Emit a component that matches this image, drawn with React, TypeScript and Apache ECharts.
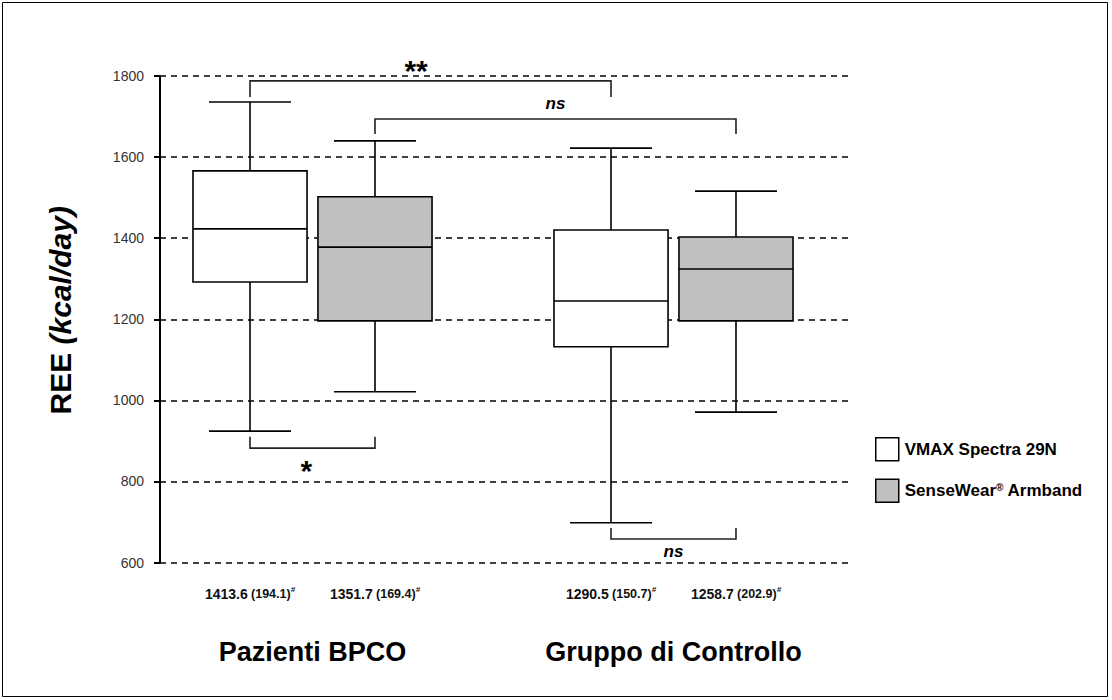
import React, { useEffect, useRef } from "react";
import * as echarts from "echarts";

const FONT = "'Liberation Sans', Arial, sans-serif";

const groups = ["Pazienti BPCO", "Gruppo di Controllo"];
const seriesNames = ["VMAX Spectra 29N", "SenseWear® Armband"];
// [min, Q1, median, Q3, max] for each group
const vmaxStats = [
  [924, 1292, 1423, 1566, 1736],
  [698, 1132, 1245, 1420, 1622],
];
const senseStats = [
  [1021, 1196, 1378, 1502, 1640],
  [971, 1196, 1324, 1403, 1516],
];
const vmaxMean = ["1413.6", "1290.5"];
const vmaxSd = ["194.1", "150.7"];
const senseMean = ["1351.7", "1258.7"];
const senseSd = ["169.4", "202.9"];

const yMin = 600;
const yMax = 1800;
const yStep = 200;

// [fromGroup, fromSeries, toGroup, toSeries, barValue, legEndValue]
const brackets = [
  [0, 0, 1, 0, 1788, 1748],
  [0, 1, 1, 1, 1694, 1657],
  [0, 0, 0, 1, 882, 910],
  [1, 0, 1, 1, 658, 685],
];
const bracketLabels = ["**", "ns", "*", "ns"];

// layout fractions of the category band width
const SIDE = 0.1731;
const BOX_HALF = 0.158;
const CAP_HALF = 0.1136;
// label position along each bracket (style)
const LABEL_FRAC = [0.46, 0.5, 0.45, 0.5];

const fills = ["#ffffff", "#c0c0c0"];

function makeBoxRender(sIdx: number, means: string[], sds: string[]) {
  return (params: any, api: any) => {
    const g = api.value(0);
    const bw = api.size([1, 0])[0];
    const cx = api.coord([g, api.value(3)])[0] + (sIdx === 0 ? -1 : 1) * SIDE * bw;
    const y = (v: number) => api.coord([g, v])[1];
    const yLo = y(api.value(1));
    const yQ1 = y(api.value(2));
    const yMed = y(api.value(3));
    const yQ3 = y(api.value(4));
    const yHi = y(api.value(5));
    const hw = BOX_HALF * bw;
    const cap = CAP_HALF * bw;
    const ls = { stroke: "#000", lineWidth: 1.6 };
    const bottom = params.coordSys.y + params.coordSys.height;
    return {
      type: "group",
      children: [
        { type: "line", shape: { x1: cx, y1: yHi, x2: cx, y2: yQ3 }, style: ls },
        { type: "line", shape: { x1: cx - cap, y1: yHi, x2: cx + cap, y2: yHi }, style: ls },
        { type: "line", shape: { x1: cx, y1: yQ1, x2: cx, y2: yLo }, style: ls },
        { type: "line", shape: { x1: cx - cap, y1: yLo, x2: cx + cap, y2: yLo }, style: ls },
        {
          type: "rect",
          shape: { x: cx - hw, y: yQ3, width: 2 * hw, height: yQ1 - yQ3 },
          style: { fill: fills[sIdx], stroke: "#000", lineWidth: 1.6 },
        },
        { type: "line", shape: { x1: cx - hw, y1: yMed, x2: cx + hw, y2: yMed }, style: ls },
        {
          type: "text",
          x: cx,
          y: bottom + 31,
          style: {
            text: `{m|${means[params.dataIndex]}} {s|(${sds[params.dataIndex]})}{h|#}`,
            align: "center",
            verticalAlign: "middle",
            rich: {
              m: { fontSize: 14, fontWeight: "bold", fontFamily: FONT, fill: "#111", lineHeight: 16 },
              s: { fontSize: 12.5, fontWeight: "bold", fontFamily: FONT, fill: "#111", lineHeight: 16 },
              h: { fontSize: 8, fontWeight: "bold", fontStyle: "italic", fontFamily: FONT, fill: "#111", verticalAlign: "top", lineHeight: 16 },
            },
          },
        },
      ],
    };
  };
}

function bracketRender(params: any, api: any) {
  const bw = api.size([1, 0])[0];
  const fg = api.value(0);
  const fs = api.value(1);
  const tg = api.value(2);
  const ts = api.value(3);
  const bar = api.value(4);
  const leg = api.value(5);
  const x1 = api.coord([fg, bar])[0] + (fs === 0 ? -1 : 1) * SIDE * bw;
  const x2 = api.coord([tg, bar])[0] + (ts === 0 ? -1 : 1) * SIDE * bw;
  const yBar = api.coord([fg, bar])[1];
  const yLeg = api.coord([fg, leg])[1];
  const label = bracketLabels[params.dataIndex];
  const frac = LABEL_FRAC[params.dataIndex];
  const above = yLeg > yBar;
  const isStar = label.indexOf("*") >= 0;
  const fontSize = isStar ? 30 : 17;
  let ty: number;
  if (above) ty = isStar ? yBar - 10 : yBar - 15;
  else ty = isStar ? yBar + 22 : yBar + 13;
  return {
    type: "group",
    children: [
      {
        type: "polyline",
        shape: { points: [[x1, yLeg], [x1, yBar], [x2, yBar], [x2, yLeg]] },
        style: { stroke: "#222", lineWidth: 1.6, fill: "none" },
      },
      {
        type: "text",
        x: x1 + (x2 - x1) * frac,
        y: ty,
        style: {
          text: label,
          align: "center",
          verticalAlign: "middle",
          fontSize,
          fontWeight: "bold",
          fontStyle: isStar ? "normal" : "italic",
          fontFamily: FONT,
          fill: "#000",
        },
      },
    ],
  };
}

export default function App() {
  const ref = useRef<HTMLDivElement>(null);
  useEffect(() => {
    if (!ref.current) return;
    const chart = echarts.init(ref.current, undefined, { renderer: "svg" });
    const option: any = {
      animation: false,
      backgroundColor: "#ffffff",
      textStyle: { fontFamily: FONT },
      grid: [
        { left: 160, top: 76, width: 690, height: 486.5 },
        { left: 132, top: 76, width: 722, height: 486.5 },
      ],
      xAxis: [
        { gridIndex: 0, type: "value", min: 0, max: 1, show: false },
        {
          gridIndex: 1,
          type: "category",
          data: groups,
          axisLine: { show: false },
          axisTick: { show: false },
          splitLine: { show: false },
          axisLabel: { fontSize: 27, fontWeight: "bold", color: "#000", margin: 76, fontFamily: FONT },
        },
      ],
      yAxis: [
        {
          gridIndex: 0,
          type: "value",
          min: yMin,
          max: yMax,
          interval: yStep,
          axisLine: { show: true, lineStyle: { color: "#000", width: 2 } },
          axisTick: { show: true, length: 6, lineStyle: { color: "#000", width: 2 } },
          axisLabel: {
            fontSize: 14,
            color: "#333",
            margin: 16,
            fontFamily: FONT,
            formatter: (v: number) => String(v),
          },
          splitLine: { show: true, lineStyle: { color: "#000", width: 1.5, type: [6, 5] } },
          name: "{a|REE }{b|(kcal/day)}",
          nameLocation: "middle",
          nameRotate: 90,
          nameGap: 85,
          nameTextStyle: {
            rich: {
              a: { fontSize: 30, fontWeight: "bold", fontFamily: FONT, color: "#000", padding: [0, 0, 0, 18] },
              b: { fontSize: 30, fontWeight: "bold", fontStyle: "italic", fontFamily: FONT, color: "#000" },
            },
          },
        },
        { gridIndex: 1, type: "value", min: yMin, max: yMax, interval: yStep, show: false },
      ],
      legend: {
        orient: "vertical",
        left: 870,
        top: 432,
        itemWidth: 23,
        itemHeight: 23,
        itemGap: 17,
        icon: "rect",
        selectedMode: false,
        data: [
          { name: seriesNames[0], itemStyle: { color: fills[0], borderColor: "#000", borderWidth: 1.5 } },
          { name: seriesNames[1], itemStyle: { color: fills[1], borderColor: "#000", borderWidth: 1.5 } },
        ],
        formatter: (name: string) => {
          const parts = name.split("®");
          if (parts.length === 1) return `{t|${name}}`;
          return `{t|${parts[0]}}{r|®}{t|${parts[1]}}`;
        },
        textStyle: {
          padding: [0, 0, 0, 1],
          rich: {
            t: { fontSize: 17, fontWeight: "bold", fontFamily: FONT, color: "#000" },
            r: { fontSize: 10, fontWeight: "bold", fontFamily: FONT, color: "#000", verticalAlign: "top" },
          },
        },
      },
      series: [
        {
          name: seriesNames[0],
          type: "custom",
          xAxisIndex: 1,
          yAxisIndex: 1,
          dimensions: ["g", "min", "q1", "med", "q3", "max"],
          encode: { x: 0, y: [1, 2, 3, 4, 5] },
          data: vmaxStats.map((s, i) => [i, ...s]),
          renderItem: makeBoxRender(0, vmaxMean, vmaxSd),
          itemStyle: { color: fills[0] },
          clip: false,
        },
        {
          name: seriesNames[1],
          type: "custom",
          xAxisIndex: 1,
          yAxisIndex: 1,
          dimensions: ["g", "min", "q1", "med", "q3", "max"],
          encode: { x: 0, y: [1, 2, 3, 4, 5] },
          data: senseStats.map((s, i) => [i, ...s]),
          renderItem: makeBoxRender(1, senseMean, senseSd),
          itemStyle: { color: fills[1] },
          clip: false,
        },
        {
          name: "brackets",
          type: "custom",
          xAxisIndex: 1,
          yAxisIndex: 1,
          encode: { x: [0, 2], y: [4, 5] },
          data: brackets,
          renderItem: bracketRender,
          clip: false,
        },
      ],
      graphic: [
        {
          type: "rect",
          shape: { x: 2.5, y: 2.5, width: 1105, height: 694 },
          style: { fill: "none", stroke: "#000", lineWidth: 1 },
          silent: true,
        },
      ],
    };
    chart.setOption(option);
    return () => chart.dispose();
  }, []);
  return (
    <div
      ref={ref}
      style={{ position: "fixed", left: 0, top: 0, width: 1112, height: 700, background: "#fff" }}
    />
  );
}
